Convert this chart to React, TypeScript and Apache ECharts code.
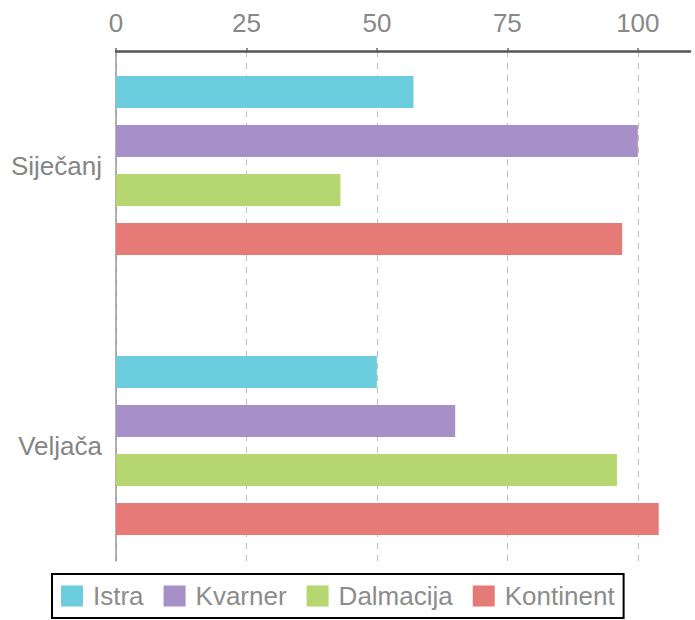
import React, { useEffect, useRef } from "react";
import * as echarts from "echarts";

const categories = ["Siječanj", "Veljača"];
const seriesNames = ["Istra", "Kvarner", "Dalmacija", "Kontinent"];
const istra = [57, 50];
const kvarner = [100, 65];
const dalmacija = [43, 96];
const kontinent = [97, 104];
const tickValues = [0, 25, 50, 75, 100];
const colors = ["#6ccddf", "#a78fc8", "#b6d76f", "#e57a77"];

const X_MAX = 110;

export default function App() {
  const ref = useRef<HTMLDivElement>(null);
  useEffect(() => {
    if (!ref.current) return;
    const chart = echarts.init(ref.current, undefined, { renderer: "svg" });
    const values = [istra, kvarner, dalmacija, kontinent];
    chart.setOption({
      animation: false,
      textStyle: { fontFamily: "Liberation Sans, Arial, sans-serif" },
      grid: [
        { left: 116, width: 574, top: 25.5, height: 560 },
        { left: 116, width: 574, top: 51, height: 510 },
      ],
      xAxis: [
        { type: "value", gridIndex: 0, min: 0, max: X_MAX, show: false },
        {
          type: "value",
          gridIndex: 1,
          min: 0,
          max: X_MAX,
          interval: 25,
          position: "top",
          axisLine: { show: true, lineStyle: { color: "#555", width: 2.5 } },
          axisTick: { show: true, length: 3, lineStyle: { color: "#666", width: 1.5 } },
          axisLabel: {
            color: "#888",
            fontSize: 26,
            margin: 15,
            showMaxLabel: false,
            formatter: (v: number) => (tickValues.includes(v) ? String(v) : ""),
          },
          splitLine: {
            show: true,
            showMaxLine: false,
            lineStyle: { color: "#bdbdbd", width: 1, type: [6, 6] },
          },
        },
      ],
      yAxis: [
        {
          type: "category",
          gridIndex: 0,
          data: categories,
          inverse: true,
          axisLine: { show: false },
          axisTick: { show: false },
          axisLabel: { color: "#858585", fontSize: 26, margin: 14 },
        },
        {
          type: "category",
          gridIndex: 1,
          data: ["", ""],
          axisLine: { show: true, lineStyle: { color: "#999", width: 1.5 } },
          axisTick: { show: false },
          axisLabel: { show: false },
          splitLine: { show: false },
        },
      ],
      legend: {
        data: seriesNames,
        left: 52,
        top: 574,
        padding: [9, 9, 9, 9],
        borderColor: "#000",
        borderWidth: 2,
        itemWidth: 22,
        itemHeight: 21,
        itemGap: 20,
        icon: "rect",
        textStyle: { color: "#8c8c8c", fontSize: 26, lineHeight: 26, padding: [0, 0, 0, 5] },
      },
      series: seriesNames.map((name, i) => ({
        name,
        type: "bar",
        xAxisIndex: 0,
        yAxisIndex: 0,
        data: values[i],
        barWidth: 32,
        barGap: "53%",
        itemStyle: { color: colors[i] },
      })),
    });
    return () => chart.dispose();
  }, []);
  return (
    <div
      ref={ref}
      style={{ position: "absolute", left: 0, top: 0, width: 695, height: 620, background: "#fff" }}
    />
  );
}
